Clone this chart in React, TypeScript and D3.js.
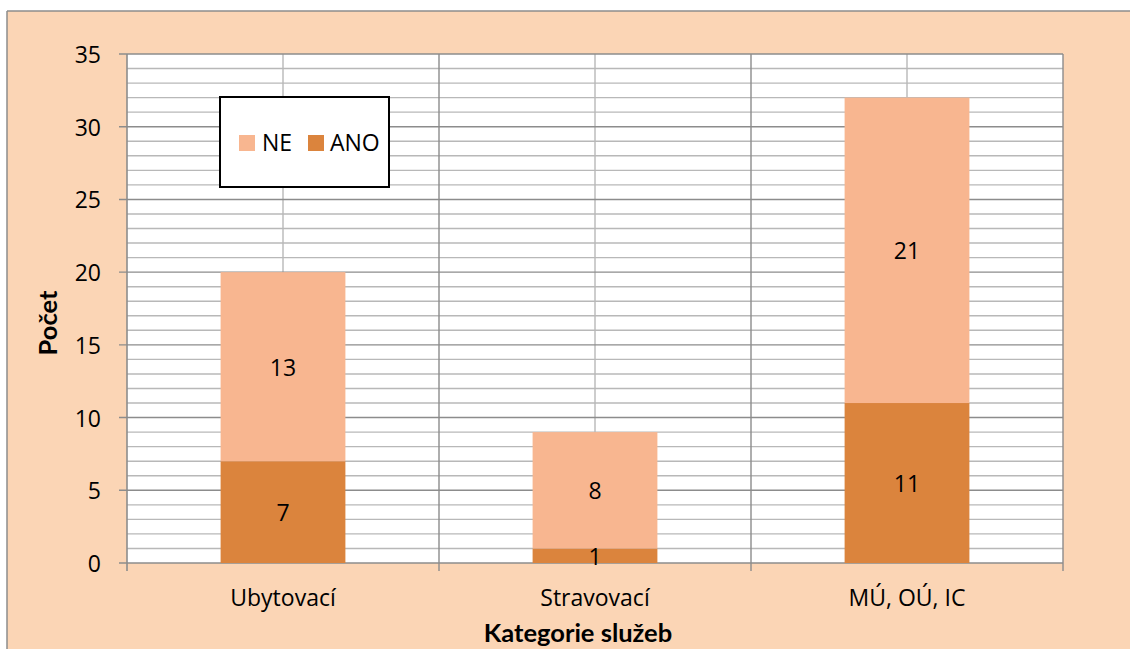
import React, { useEffect } from "react";
import * as d3 from "d3";

const categories = ["Ubytovací", "Stravovací", "MÚ, OÚ, IC"];
const anoValues = [7, 1, 11];
const neValues = [13, 8, 21];
const yTicks = [0, 5, 10, 15, 20, 25, 30, 35];
const seriesNames = ["NE", "ANO"];

const W = 1130;
const H = 649;
const FONT = "'Open Sans', Lato, sans-serif";
const TITLE_FONT = "Lato, 'Open Sans', sans-serif";
const FS = 23;
const COL_NE = "#F8B690";
const COL_ANO = "#DB843D";
const BG = "#FBD5B5";

export default function App() {
  useEffect(() => {
    document.body.style.margin = "0";
    document.documentElement.style.overflow = "hidden";
    document.body.style.overflow = "hidden";
  }, []);
  const left = 127, right = 1063, top = 54, bottom = 563;
  const y = d3.scaleLinear().domain([0, 35]).range([bottom, top]);
  const xBand = d3.scaleBand<string>().domain(categories).range([left, right]).paddingInner(0).paddingOuter(0);
  const xBar = d3.scaleBand<string>().domain(categories).range([left, right]).paddingInner(0.6).paddingOuter(0.3);
  const minor = d3.range(0, 36, 1);

  const rows = categories.map((c, i) => ({ c, ano: anoValues[i], ne: neValues[i] }));
  const stack = d3.stack<any>().keys(["ano", "ne"])(rows);

  return (
    <div style={{ position: "fixed", left: 0, top: 0, width: W, height: H, overflow: "hidden" }}>
      <svg width={W} height={H} style={{ display: "block", fontFamily: FONT }}>
        <rect x={0} y={0} width={W} height={H} fill="#fff" />
        <rect x={7} y={11} width={W} height={H} fill={BG} />
        <line x1={7} x2={W} y1={11} y2={11} stroke="#8c8c8c" strokeWidth={1.5} />
        <line x1={7} x2={7} y1={11} y2={H} stroke="#8c8c8c" strokeWidth={1.5} />
        <rect x={left} y={top} width={right - left} height={bottom - top} fill="#fff" />
        {minor.filter((v) => v % 5 !== 0).map((v) => (
          <line key={"mh" + v} x1={left} x2={right} y1={y(v)} y2={y(v)} stroke="#b8b8b8" strokeWidth={1.4} />
        ))}
        {categories.map((c) => (
          <line key={"mv" + c} x1={xBand(c)! + xBand.bandwidth() / 2} x2={xBand(c)! + xBand.bandwidth() / 2} y1={top} y2={bottom} stroke="#b8b8b8" strokeWidth={1.4} />
        ))}
        {yTicks.map((v) => (
          <line key={"Mh" + v} x1={left - 8} x2={right} y1={y(v)} y2={y(v)} stroke="#8c8c8c" strokeWidth={1.4} />
        ))}
        {categories.slice(1).map((c) => (
          <line key={"Mv" + c} x1={xBand(c)!} x2={xBand(c)!} y1={top} y2={bottom + 8} stroke="#8c8c8c" strokeWidth={1.4} />
        ))}
        <line x1={right} x2={right} y1={top} y2={bottom + 8} stroke="#8c8c8c" strokeWidth={1.4} />
        <line x1={left} x2={left} y1={top} y2={bottom + 8} stroke="#8c8c8c" strokeWidth={1.6} />
        {stack.map((s) =>
          s.map((d: any) => (
            <rect
              key={s.key + d.data.c}
              x={xBar(d.data.c)}
              width={xBar.bandwidth()}
              y={y(d[1])}
              height={y(d[0]) - y(d[1])}
              fill={s.key === "ano" ? COL_ANO : COL_NE}
            />
          ))
        )}
        {stack.map((s) =>
          s.map((d: any) => (
            <text
              key={"l" + s.key + d.data.c}
              x={xBar(d.data.c)! + xBar.bandwidth() / 2}
              y={y((d[0] + d[1]) / 2)}
              textAnchor="middle"
              dominantBaseline="central"
              fontSize={FS}
              fill="#000"
            >
              {d[1] - d[0]}
            </text>
          ))
        )}
        {yTicks.map((v) => (
          <text key={"yt" + v} x={101} y={y(v)} textAnchor="end" dominantBaseline="central" fontSize={FS} fill="#000">
            {v}
          </text>
        ))}
        {categories.map((c) => (
          <text key={"xt" + c} x={xBand(c)! + xBand.bandwidth() / 2} y={606} textAnchor="middle" fontSize={FS} fill="#000">
            {c}
          </text>
        ))}
        <text x={578} y={642} textAnchor="middle" fontSize={25.5} fontWeight="bold" fill="#000" fontFamily={TITLE_FONT}>
          Kategorie služeb
        </text>
        <text transform={`translate(47,323) rotate(-90)`} textAnchor="middle" dominantBaseline="central" fontSize={25.5} fontWeight="bold" fill="#000" fontFamily={TITLE_FONT}>
          Počet
        </text>
        <rect x={220} y={97} width={169} height={90} fill="#fff" stroke="#000" strokeWidth={2} />
        {seriesNames.map((n, i) => (
          <g key={"lg" + n}>
            <rect x={239 + i * 69} y={135} width={16} height={16} fill={n === "NE" ? COL_NE : COL_ANO} />
            <text x={262 + i * 68} y={151} fontSize={FS} fill="#000">
              {n}
            </text>
          </g>
        ))}
      </svg>
    </div>
  );
}
